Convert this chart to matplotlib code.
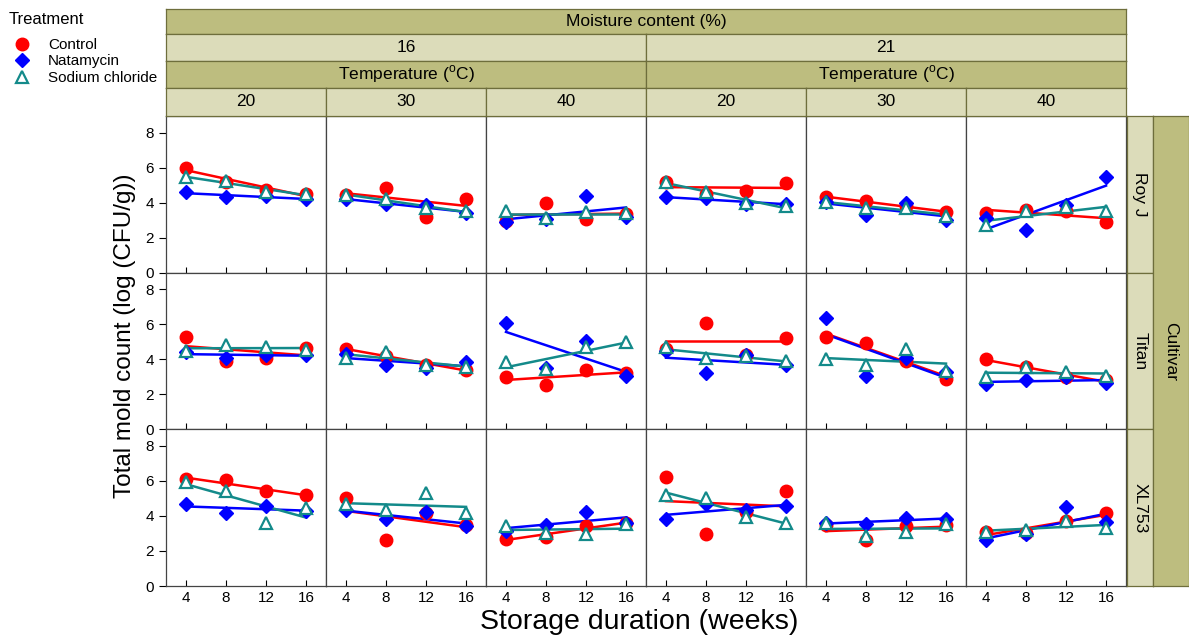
import matplotlib
matplotlib.use("Agg")
import matplotlib.pyplot as plt
from matplotlib.lines import Line2D
import numpy as np

plt.rcParams["font.family"] = ["Liberation Sans", "DejaVu Sans"]
plt.rcParams["mathtext.fontset"] = "custom"
plt.rcParams["mathtext.rm"] = "Liberation Sans"

weeks = np.array([4, 8, 12, 16])
cultivars = ["Roy J", "Titan", "XL753"]
moistures = ["16", "21"]
temperatures = ["20", "30", "40"]

# rows = cultivar, columns = moisture 16 (20, 30, 40 C) then moisture 21 (20, 30, 40 C)
control = np.array([
    [[6.0, 5.2, 4.75, 4.5], [4.45, 4.85, 3.2, 4.2], [2.95, 4.0, 3.05, 3.35],
     [5.2, 4.5, 4.65, 5.1], [4.3, 4.1, 3.8, 3.45], [3.4, 3.6, 3.5, 2.9]],
    [[5.3, 3.9, 4.1, 4.65], [4.6, 4.2, 3.7, 3.4], [3.0, 2.55, 3.4, 3.2],
     [4.6, 6.05, 4.25, 5.2], [5.25, 4.95, 3.9, 2.9], [4.0, 3.55, 3.0, 2.8]],
    [[6.1, 6.05, 5.4, 5.2], [5.05, 2.6, 4.15, 3.5], [2.7, 2.8, 3.4, 3.6],
     [6.2, 2.95, 4.2, 5.45], [3.5, 2.6, 3.45, 3.5], [3.1, 3.0, 3.7, 4.15]],
])
natamycin = np.array([
    [[4.6, 4.3, 4.4, 4.2], [4.2, 3.9, 3.85, 3.4], [2.9, 3.05, 4.4, 3.2],
     [4.3, 4.25, 3.95, 3.95], [4.05, 3.3, 4.0, 3.0], [3.15, 2.45, 3.85, 5.45]],
    [[4.4, 4.1, 4.25, 4.25], [4.3, 3.7, 3.5, 3.85], [6.1, 3.5, 5.05, 3.05],
     [4.45, 3.2, 4.25, 3.65], [6.35, 3.05, 4.1, 3.25], [2.6, 2.8, 3.0, 2.65]],
    [[4.7, 4.15, 4.55, 4.3], [4.35, 3.8, 4.2, 3.4], [3.15, 3.5, 4.2, 3.6],
     [3.8, 4.7, 4.35, 4.55], [3.6, 3.55, 3.9, 3.8], [2.6, 2.95, 4.5, 3.65]],
])
sodium_chloride = np.array([
    [[5.45, 5.25, 4.6, 4.5], [4.45, 4.2, 3.7, 3.5], [3.5, 3.15, 3.45, 3.4],
     [5.2, 4.6, 4.0, 3.8], [4.05, 3.7, 3.7, 3.25], [2.7, 3.5, 3.75, 3.5]],
    [[4.5, 4.8, 4.7, 4.55], [4.1, 4.4, 3.7, 3.55], [3.85, 3.45, 4.7, 5.0],
     [4.7, 4.1, 4.2, 3.9], [4.0, 3.7, 4.6, 3.35], [3.0, 3.55, 3.25, 3.05]],
    [[5.95, 5.45, 3.6, 4.45], [4.7, 4.35, 5.3, 4.15], [3.45, 3.0, 2.95, 3.55],
     [5.2, 5.05, 3.95, 3.6], [3.6, 2.85, 3.1, 3.55], [3.1, 3.2, 3.7, 3.3]],
])

treatments = [
    ("Control", control, dict(marker="o", color="#ff0000", mfc="#ff0000", mec="#ff0000", ms=9)),
    ("Natamycin", natamycin, dict(marker="D", color="#0000ff", mfc="#0000ff", mec="#0000ff", ms=7.5)),
    ("Sodium chloride", sodium_chloride,
     dict(marker="^", color="#138a8a", mfc="white", mec="#138a8a", ms=9, mew=1.6)),
]

DARK = "#bdbd7f"
LIGHT = "#dcdcba"
EDGE = "#6e6e3c"

W, H = 1189, 639
fig = plt.figure(figsize=(W / 100, H / 100), dpi=100)


def box(x0, y0, x1, y1):
    # pixel box (origin top-left) -> figure rect
    return [x0 / W, 1 - y1 / H, (x1 - x0) / W, (y1 - y0) / H]


def strip(x0, y0, x1, y1, color, text, rotation=0, size=12.5):
    ax = fig.add_axes(box(x0, y0, x1, y1))
    ax.set_xticks([])
    ax.set_yticks([])
    ax.set_facecolor(color)
    for s in ax.spines.values():
        s.set_color(EDGE)
        s.set_linewidth(0.9)
    ax.text(0.5, 0.5, text, ha="center", va="center", rotation=rotation,
            fontsize=size, transform=ax.transAxes)
    return ax


left, right, top, bottom = 166, 1126, 116, 586
col_w = (right - left) / 6
row_h = (bottom - top) / 3

for r, cv in enumerate(cultivars):
    for c in range(6):
        x0 = left + c * col_w
        y0 = top + r * row_h
        ax = fig.add_axes(box(x0, y0, x0 + col_w, y0 + row_h))
        for name, data, style in treatments:
            y = data[r, c]
            slope, icpt = np.polyfit(weeks, y, 1)
            ax.plot(weeks, icpt + slope * weeks, color=style["color"], lw=1.8, zorder=2)
            ax.plot(weeks, y, ls="none", zorder=3, **style)
        ax.set_xlim(2, 18)
        ax.set_ylim(0, 8.95)
        ax.set_xticks(weeks)
        ax.set_yticks([0, 2, 4, 6, 8])
        ax.tick_params(axis="x", direction="in", length=4, labelsize=11, width=0.8)
        ax.tick_params(axis="y", direction="out", length=5, labelsize=11, width=0.8)
        if c > 0:
            ax.tick_params(axis="y", left=False, labelleft=False)
        if r < 2:
            ax.tick_params(axis="x", labelbottom=False)
        for s in ax.spines.values():
            s.set_color("#444444")
            s.set_linewidth(0.9)

# column headers
strip(left, 9, right, 34, DARK, "Moisture content (%)")
for i, m in enumerate(moistures):
    xa = left + i * 3 * col_w
    xb = xa + 3 * col_w
    strip(xa, 34, xb, 61, LIGHT, m)
    strip(xa, 61, xb, 88, DARK, "Temperature ($^{\\mathrm{o}}$C)")
    for j, t in enumerate(temperatures):
        strip(xa + j * col_w, 88, xa + (j + 1) * col_w, top, LIGHT, t)

# row headers
for r, cv in enumerate(cultivars):
    strip(right + 1, top + r * row_h, 1153, top + (r + 1) * row_h, LIGHT, cv, rotation=-90)
strip(1153, top, 1189, bottom, DARK, "Cultivar", rotation=-90)

fig.text(125 / W, 1 - 336 / H, "Total mold count (log (CFU/g))",
         rotation=90, ha="center", va="center", fontsize=17.5)
fig.text(639 / W, 1 - 622 / H, "Storage duration (weeks)",
         ha="center", va="center", fontsize=20.5)

fig.text(9 / W, 1 - 19 / H, "Treatment", ha="left", va="center", fontsize=12)
handles = [Line2D([], [], ls="none", **style) for _, _, style in treatments]
leg = fig.legend(handles, [n for n, _, _ in treatments],
                 loc="upper left", bbox_to_anchor=(10 / W, 1 - 38 / H), frameon=False,
                 fontsize=11, labelspacing=0.16, handletextpad=0.9,
                 handlelength=1.6, borderpad=0, borderaxespad=0)

fig.savefig("out.png", dpi=100)
